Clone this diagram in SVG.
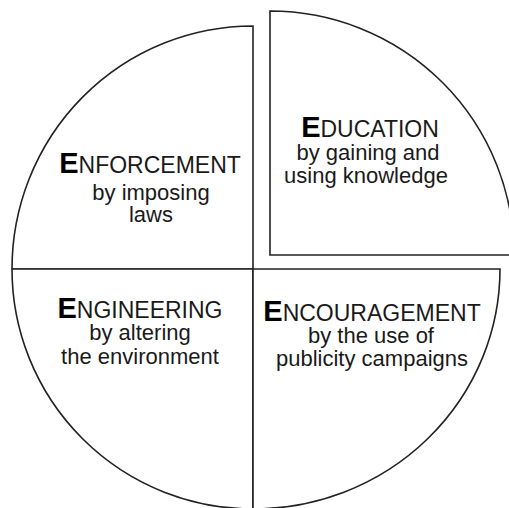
<svg xmlns="http://www.w3.org/2000/svg" width="509" height="508" viewBox="0 0 509 508">
<style>
.q{fill:#fff;stroke:#222;stroke-width:1.6;stroke-linejoin:miter}
.t{font-family:"Liberation Sans",Arial,sans-serif;fill:#1a1a1a;text-anchor:middle}
.h{font-size:23px}
.s{font-size:22px}
.b{font-size:29px;font-weight:900;fill:#000}
</style>
<rect width="509" height="508" fill="#fff"/>
<g id="enforcement">
<path class="q" d="M253 269 L12 269 A241 243 0 0 1 253 26 Z"/>
<text class="t h" x="150" y="173"><tspan class="b">E</tspan>NFORCEMENT</text>
<text class="t s" x="151" y="200">by imposing</text>
<text class="t s" x="151" y="222">laws</text>
</g>
<g id="engineering">
<path class="q" d="M253 269 L12 269 A241 240 0 0 0 253 509 Z"/>
<text class="t h" x="140" y="318"><tspan class="b">E</tspan>NGINEERING</text>
<text class="t s" x="140" y="340">by altering</text>
<text class="t s" x="140" y="364">the environment</text>
</g>
<g id="encouragement">
<path class="q" d="M253 269 L500 269 A247 240 0 0 1 253 509 Z"/>
<text class="t h" x="372" y="321"><tspan class="b">E</tspan>NCOURAGEMENT</text>
<text class="t s" x="371" y="343">by the use of</text>
<text class="t s" x="372" y="366">publicity campaigns</text>
</g>
<g id="education">
<path class="q" d="M270 255 L270 11 A244 244 0 0 1 514 255 Z"/>
<text class="t h" x="370" y="137"><tspan class="b">E</tspan>DUCATION</text>
<text class="t s" x="368" y="160">by gaining and</text>
<text class="t s" x="366" y="183">using knowledge</text>
</g>
<g id="connectors"></g>
</svg>
